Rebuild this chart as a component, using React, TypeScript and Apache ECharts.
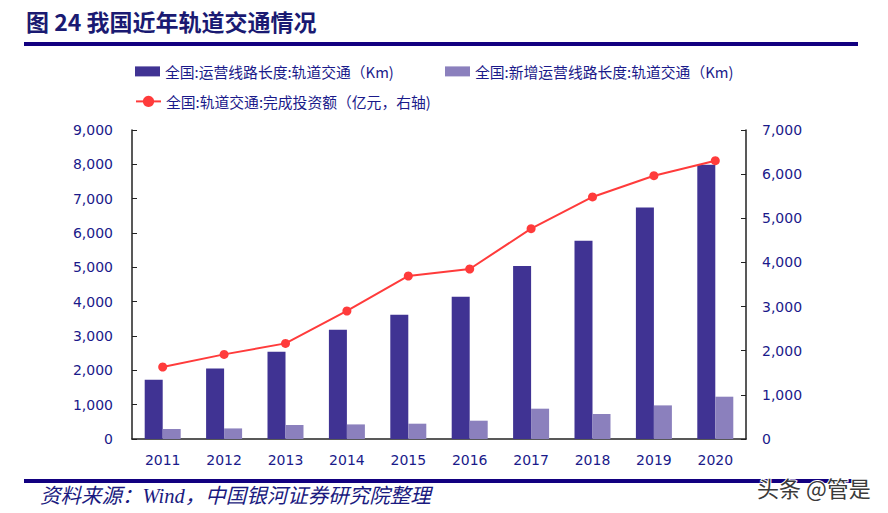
import React, { useEffect, useRef } from "react";
import * as echarts from "echarts";

const years = ["2011", "2012", "2013", "2014", "2015", "2016", "2017", "2018", "2019", "2020"];
const lengthKm = [1727, 2056, 2543, 3184, 3621, 4145, 5039, 5776, 6746, 7990];
const newLengthKm = [291, 308, 408, 425, 446, 533, 883, 728, 979, 1232];
const investment = [1631, 1917, 2166, 2900, 3693, 3851, 4765, 5483, 5965, 6305];

const nameLength = "全国:运营线路长度:轨道交通（Km)";
const nameNew = "全国:新增运营线路长度:轨道交通（Km)";
const nameInv = "全国:轨道交通:完成投资额（亿元，右轴)";

const titleText = "图 24 我国近年轨道交通情况";
const sourceText = "资料来源：Wind，中国银河证券研究院整理";
const watermarkText = "头条 @管是";

const navy = "#1a1a8a";
const cjk = "'Noto Sans CJK SC', 'DejaVu Sans', sans-serif";
const num = "'DejaVu Sans', sans-serif";

export default function App() {
  const ref = useRef<HTMLDivElement>(null);
  useEffect(() => {
    const chart = echarts.init(ref.current!, null, { renderer: "svg" });
    const legendBase = {
      itemWidth: 25,
      itemHeight: 10,
      itemGap: 5,
      textStyle: { color: navy, fontSize: 14.8, fontFamily: cjk },
    };
    const fmt = (v: number) => v.toLocaleString("en-US");
    chart.setOption({
      animation: false,
      backgroundColor: "#ffffff",
      legend: [
        { ...legendBase, left: 130, top: 59, data: [{ name: nameLength, icon: "rect" }] },
        { ...legendBase, left: 440, top: 59, data: [{ name: nameNew, icon: "rect" }] },
        { ...legendBase, left: 130, top: 89, itemHeight: 14, data: [{ name: nameInv }] },
      ],
      grid: { left: 132, right: 142, top: 130, bottom: 74 },
      xAxis: {
        type: "category",
        data: years,
        axisLine: { lineStyle: { color: "#222", width: 1.5 } },
        axisTick: { inside: true, length: 5, lineStyle: { color: "#222" } },
        axisLabel: { color: navy, fontSize: 14, margin: 14, fontFamily: num },
      },
      yAxis: [
        {
          type: "value",
          min: 0,
          max: 9000,
          interval: 1000,
          splitLine: { show: false },
          axisLine: { show: true, lineStyle: { color: "#222", width: 1.5 } },
          axisTick: { show: true, inside: true, length: 5, lineStyle: { color: "#222" } },
          axisLabel: { color: navy, fontSize: 14, margin: 19, fontFamily: num, formatter: fmt },
        },
        {
          type: "value",
          min: 0,
          max: 7000,
          interval: 1000,
          position: "right",
          splitLine: { show: false },
          axisLine: { show: true, lineStyle: { color: "#222", width: 1.5 } },
          axisTick: { show: true, inside: true, length: 5, lineStyle: { color: "#222" } },
          axisLabel: { color: navy, fontSize: 14, margin: 16, fontFamily: num, formatter: fmt },
        },
      ],
      series: [
        {
          name: nameLength,
          type: "bar",
          data: lengthKm,
          barWidth: 18,
          barGap: "0%",
          itemStyle: { color: "#403393" },
        },
        {
          name: nameNew,
          type: "bar",
          data: newLengthKm,
          barWidth: 18,
          barGap: "0%",
          itemStyle: { color: "#8b80bd" },
        },
        {
          name: nameInv,
          type: "line",
          yAxisIndex: 1,
          data: investment,
          symbol: "circle",
          symbolSize: 9,
          lineStyle: { color: "#ff3b3b", width: 2 },
          itemStyle: { color: "#ff3b3b" },
          z: 5,
        },
      ],
      graphic: [
        {
          type: "text",
          left: 26,
          top: 9,
          style: {
            text: titleText,
            fill: "#1a1a72",
            font: "bold 23px 'Noto Sans CJK SC', serif",
          },
        },
        {
          type: "rect",
          shape: { x: 24, y: 42, width: 834, height: 4 },
          style: { fill: "#120080" },
        },
        {
          type: "rect",
          shape: { x: 24, y: 479, width: 834, height: 4 },
          style: { fill: "#120080" },
        },
        {
          type: "text",
          left: 40,
          top: 486,
          style: {
            text: sourceText,
            fill: "#1a1a80",
            font: "italic 20.5px 'Liberation Serif', 'Noto Sans CJK SC', serif",
          },
        },
        {
          type: "text",
          left: 756,
          top: 475,
          z: 100,
          style: {
            text: watermarkText,
            fill: "#3a3a3a",
            stroke: "#ffffff",
            lineWidth: 2,
            font: "22px 'Noto Sans CJK SC', sans-serif",
          },
        },
      ],
    });
    return () => chart.dispose();
  }, []);
  return (
    <div
      ref={ref}
      style={{ position: "fixed", left: 0, top: 0, width: 888, height: 513 }}
    />
  );
}
